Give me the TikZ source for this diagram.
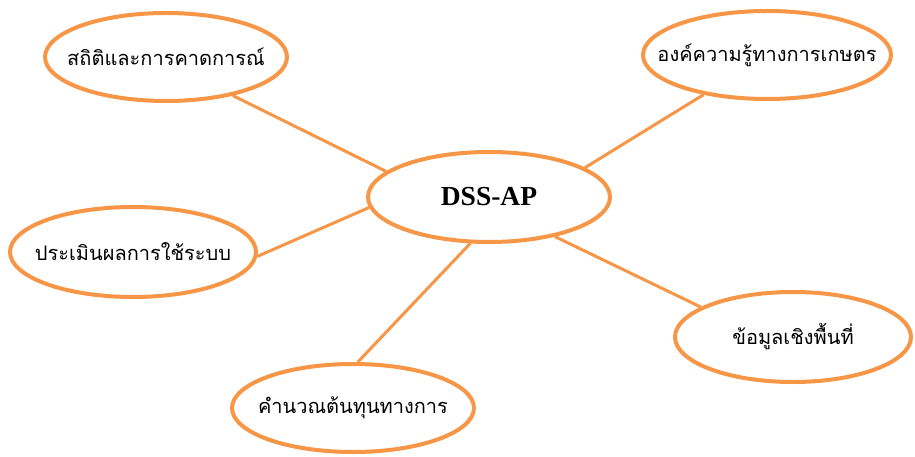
\documentclass[tikz,border=0pt]{standalone}
\usepackage{fontspec}
\usepackage{xcolor}
\usetikzlibrary{shapes.geometric}
\setmainfont{Liberation Serif}
\newfontfamily\thaifont[Script=Thai]{Loma}
\definecolor{ringorange}{HTML}{F79646}

\begin{document}
\begin{tikzpicture}[x=1pt, y=-1pt, topic/.style={ellipse, draw=ringorange, line width=4pt, inner xsep=-30pt, inner ysep=0pt, font=\thaifont\fontsize{20}{24}\selectfont}, link/.style={draw=ringorange, line width=3pt}]
	\useasboundingbox (0, 0) rectangle (915, 457);
	\node[topic, minimum width=242pt, minimum height=90pt, font=\bfseries\fontsize{27.5}{32}\selectfont] (dss) at (489, 197) {DSS-AP};
	\node[topic, minimum width=242pt, minimum height=88pt] (stat) at (166, 57) {สถิติและการคาดการณ์};
	\node[topic, minimum width=248pt, minimum height=88pt] (agri) at (767, 55) {องค์ความรู้ทางการเกษตร};
	\node[topic, minimum width=246pt, minimum height=90pt] (eval) at (133, 252) {ประเมินผลการใช้ระบบ};
	\node[topic, minimum width=236pt, minimum height=90pt] (geo) at (793, 337) {ข้อมูลเชิงพื้นที่};
	\node[topic, minimum width=242pt, minimum height=88pt] (cost) at (353, 408) {คำนวณต้นทุนทางการ};
	
	\draw[link] (stat.-30) -- (dss.166);
	\draw[link] (dss.17) -- (agri.-148);
	\draw[link] (dss.185) -- (eval.-2);
	\draw[link] (dss.-31) -- (geo.162);
	\draw[link] (dss.248) -- (cost.84); % lines end on the rims
\end{tikzpicture}
\end{document}
